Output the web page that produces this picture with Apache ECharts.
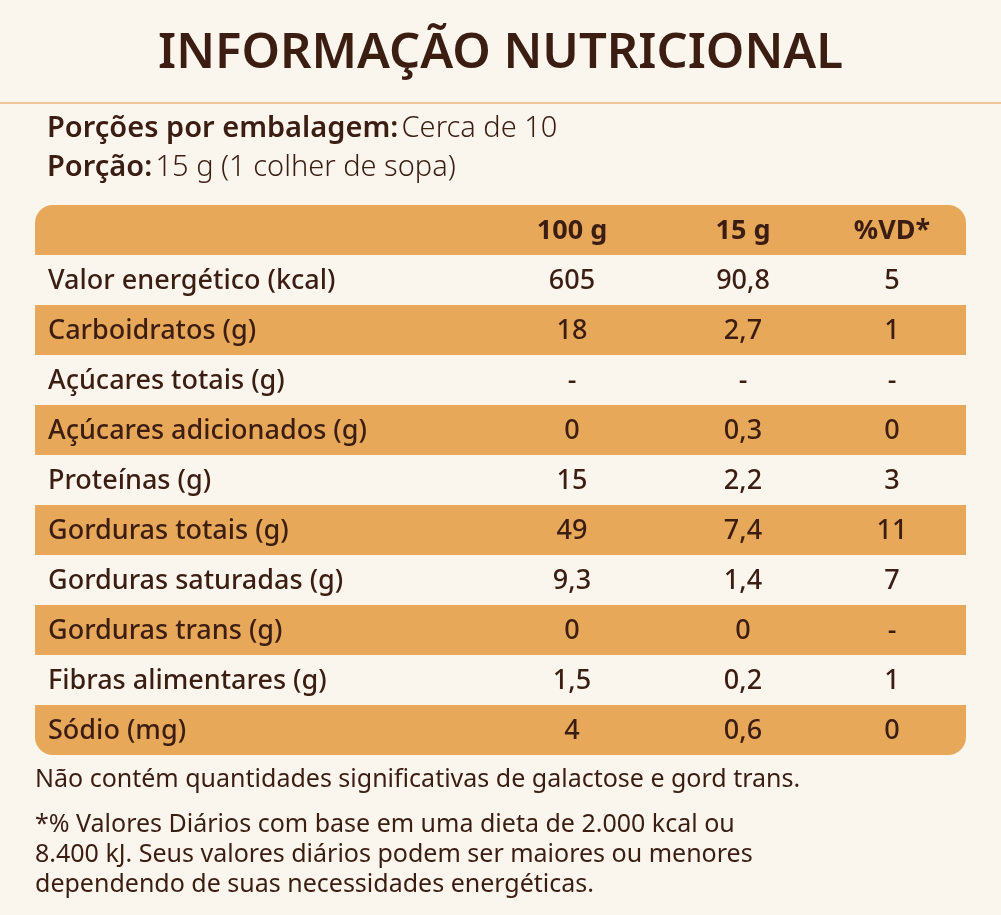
<!doctype html>
<html>
<head>
<meta charset="UTF-8">
<title>Informação nutricional</title>
<script src="https://cdn.jsdelivr.net/npm/echarts@6/dist/echarts.min.js"></script>
<style>
  html, body { margin: 0; padding: 0; background: #faf6ee; }
  #chart { width: 1001px; height: 915px; }
</style>
</head>
<body>
<div id="chart"></div>
<script>
var headers = ['', '100 g', '15 g', '%VD*'];
var nutrients = ['Valor energético (kcal)', 'Carboidratos (g)', 'Açúcares totais (g)', 'Açúcares adicionados (g)',
  'Proteínas (g)', 'Gorduras totais (g)', 'Gorduras saturadas (g)', 'Gorduras trans (g)',
  'Fibras alimentares (g)', 'Sódio (mg)'];
var per100 = ['605', '18', '-', '0', '15', '49', '9,3', '0', '1,5', '4'];
var per15 = ['90,8', '2,7', '-', '0,3', '2,2', '7,4', '1,4', '0', '0,2', '0,6'];
var vd = ['5', '1', '-', '0', '3', '11', '7', '-', '1', '0'];

var brown = '#3b1d12';
var orange = '#e8a85a';
var colX = [13, 537, 708, 857]; // column anchors in table units (px from table left)

var rows = [headers].concat(nutrients.map(function (n, i) { return [n, per100[i], per15[i], vd[i]]; }));
var rowNames = rows.map(function (r, i) { return 'r' + i; });

var chart = echarts.init(document.getElementById('chart'));
chart.setOption({
  backgroundColor: '#faf6ee',
  animation: false,
  textStyle: { fontFamily: 'Noto Sans' },
  grid: { left: 35, right: 35, top: 205, height: 550 },
  xAxis: { type: 'value', min: 0, max: 931, show: false },
  yAxis: { type: 'category', data: rowNames, inverse: true, show: false },
  series: [{
    type: 'custom',
    data: rows.map(function (r, i) { return [i]; }),
    renderItem: function (params, api) {
      var i = api.value(0);
      var row = rows[i];
      var y = api.coord([0, i])[1];
      var h = api.size([0, 1])[1];
      var x0 = api.coord([0, i])[0];
      var x1 = api.coord([931, i])[0];
      var children = [];
      var last = rows.length - 1;
      if (i === 0 || i % 2 === 0) {
        var r = i === 0 ? [18, 18, 0, 0] : (i === last ? [0, 0, 18, 18] : 0);
        children.push({ type: 'rect', shape: { x: x0, y: y - h / 2, width: x1 - x0, height: h, r: r },
          style: { fill: orange } });
      }
      for (var c = 0; c < 4; c++) {
        if (!row[c]) continue;
        children.push({ type: 'text', style: {
          text: row[c], x: api.coord([colX[c], i])[0], y: y + 1,
          align: c === 0 ? 'left' : 'center', verticalAlign: 'middle',
          font: (i === 0 ? 'bold ' : '500 ') + '27px "Noto Sans"', fill: brown } });
      }
      return { type: 'group', children: children };
    }
  }],
  graphic: [
    { type: 'text', left: 'center', top: 30, style: { text: 'INFORMAÇÃO NUTRICIONAL',
      font: '600 49px "Noto Sans"', fill: brown } },
    { type: 'rect', shape: { x: 0, y: 102, width: 1001, height: 2 }, style: { fill: '#efc897' } },
    { type: 'text', left: 47, top: 114, style: { rich: { b: { font: '600 29px "Noto Sans"', fill: brown }, n: { font: '300 29px "Noto Sans"', fill: brown } },
      text: '{b|Porções por embalagem:} {n|Cerca de 10}' } },
    { type: 'text', left: 47, top: 153, style: { rich: { b: { font: '600 29px "Noto Sans"', fill: brown }, n: { font: '300 29px "Noto Sans"', fill: brown } },
      text: '{b|Porção:} {n|15 g (1 colher de sopa)}' } },
    { type: 'text', left: 35, top: 767, style: { font: '25px "Noto Sans"', fill: brown,
      text: 'Não contém quantidades significativas de galactose e gord trans.' } },
    { type: 'text', left: 35, top: 810, style: { font: '25px "Noto Sans"', fill: brown, lineHeight: 30,
      text: '*% Valores Diários com base em uma dieta de 2.000 kcal ou\n8.400 kJ. Seus valores diários podem ser maiores ou menores\ndependendo de suas necessidades energéticas.' } }
  ]
});
</script>
</body>
</html>
